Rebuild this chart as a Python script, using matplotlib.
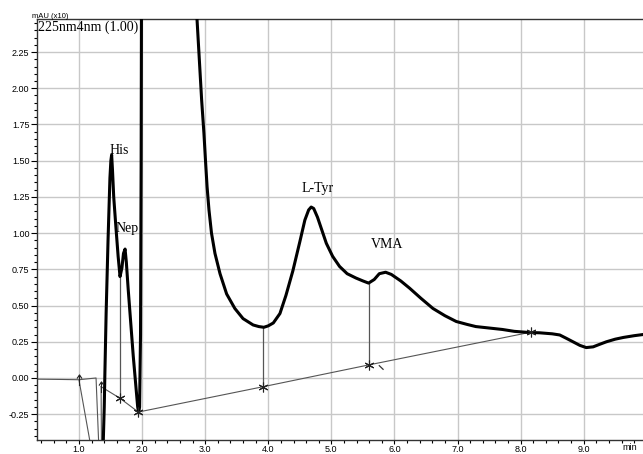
import matplotlib
matplotlib.use("Agg")
import matplotlib.pyplot as plt
from matplotlib.path import Path
from matplotlib.ticker import MultipleLocator


# main chromatogram (thick trace), minutes / mAU(x10)
trace_t = [1.385, 1.40, 1.41, 1.43, 1.46, 1.49, 1.505, 1.517, 1.53, 1.55,
           1.58, 1.62, 1.65, 1.68, 1.705, 1.73, 1.75, 1.78, 1.82, 1.86,
           1.90, 1.93, 1.945, 1.96, 1.975, 1.985, 1.99, 2.0, 2.2, 2.5,
           2.7, 2.80, 2.87, 2.944, 2.98, 3.005, 3.03, 3.06, 3.10, 3.155,
           3.235, 3.34, 3.47, 3.60, 3.76, 3.85, 3.93, 4.00, 4.08, 4.185,
           4.28, 4.39, 4.50, 4.58, 4.64, 4.68, 4.72, 4.78, 4.85, 4.92,
           5.02, 5.13, 5.25, 5.39, 5.50, 5.59, 5.68, 5.76, 5.86, 5.95,
           6.10, 6.24, 6.42, 6.61, 6.80, 6.98, 7.15, 7.29, 7.50, 7.71,
           7.90, 8.14, 8.30, 8.50, 8.62, 8.72, 8.83, 8.94, 9.04, 9.15,
           9.25, 9.36, 9.50, 9.63, 9.80, 9.94]
trace_y = [-0.43, -0.20, 0.03, 0.45, 0.95, 1.38, 1.50, 1.54, 1.44, 1.25,
           1.07, 0.84, 0.70, 0.76, 0.86, 0.89, 0.80, 0.61, 0.38, 0.15,
           -0.05, -0.20, -0.24, -0.20, 0.30, 1.5, 2.6, 6.0, 12.0, 7.0,
           3.5, 2.80, 2.48, 1.917, 1.69, 1.50, 1.32, 1.16, 1.00, 0.86,
           0.72, 0.58, 0.48, 0.41, 0.366, 0.355, 0.35, 0.36, 0.38, 0.445,
           0.57, 0.74, 0.94, 1.09, 1.16, 1.18, 1.17, 1.11, 1.02, 0.93,
           0.84, 0.77, 0.72, 0.69, 0.67, 0.655, 0.68, 0.72, 0.73, 0.715,
           0.67, 0.62, 0.55, 0.48, 0.43, 0.39, 0.37, 0.355, 0.345, 0.335,
           0.322, 0.314, 0.312, 0.305, 0.297, 0.275, 0.25, 0.225, 0.21, 0.215,
           0.232, 0.25, 0.268, 0.28, 0.292, 0.30]

# thin early trace before the solvent front
pre_t = [0.334, 0.70, 1.0, 1.20, 1.27, 1.31]
pre_y = [-0.008, -0.010, -0.012, -0.003, 0.0, -0.43]

# integration baselines
base1_t = [1.35, 1.65, 1.94]
base1_y = [-0.06, -0.14, -0.235]
base2_t = [1.94, 3.92, 5.59, 8.17]
base2_y = [-0.235, -0.06, 0.09, 0.317]

# peak separation drop lines: time, bottom, top
drop_t = [1.65, 3.92, 5.59]
drop_lo = [-0.14, -0.06, 0.09]
drop_hi = [0.70, 0.35, 0.655]

# peak start markers
start_t = [1.0, 1.35]
start_y = [-0.015, -0.06]

peak_names = ["His", "Nep", "L-Tyr", "VMA"]
peak_label_t = [1.63, 1.76, 4.78, 5.89]
peak_label_y = [1.57, 1.03, 1.31, 0.92]

x_ticks = [1.0, 2.0, 3.0, 4.0, 5.0, 6.0, 7.0, 8.0, 9.0]
y_ticks = [-0.25, 0.00, 0.25, 0.50, 0.75, 1.00, 1.25, 1.50, 1.75, 2.00, 2.25]

# little up-arrow used for peak starts
arrow_mark = Path([(0, -1), (0, 1), (-0.45, 0.35), (0, 1), (0.45, 0.35)],
                  [Path.MOVETO, Path.LINETO, Path.MOVETO, Path.LINETO, Path.LINETO])

fig = plt.figure(figsize=(6.43, 4.54), dpi=100)
ax = fig.add_axes([37 / 643, 14 / 454, 606 / 643, 421 / 454])

ax.grid(True, color="#c8c8c8", linewidth=1.0, zorder=0)

ax.plot(pre_t, pre_y, color="#555555", linewidth=0.8, zorder=2)
ax.plot([1.0, 1.17], [-0.015, -0.43], color="#555555", linewidth=0.8, zorder=2)
ax.plot([1.35, 1.355], [-0.06, -0.43], color="#555555", linewidth=0.8, zorder=2)

ax.plot(base1_t, base1_y, color="#555555", linewidth=0.8, zorder=2)
ax.plot(base2_t, base2_y, color="#555555", linewidth=0.8, zorder=2)
ax.vlines(drop_t, drop_lo, drop_hi, color="#555555", linewidth=0.9, zorder=2)
ax.plot([5.76, 5.82], [0.085, 0.06], color="#333333", linewidth=0.9, zorder=2)

ax.plot(trace_t, trace_y, color="black", linewidth=2.2, zorder=3,
        solid_joinstyle="round")

ax.plot(base1_t[1:] + base2_t[1:], base1_y[1:] + base2_y[1:], linestyle="none",
        marker=(6, 2, 0), markersize=7, color="#222222", markeredgewidth=0.8,
        zorder=4)
ax.plot(start_t, start_y, linestyle="none", marker=arrow_mark,
        markersize=8, color="#222222", markerfacecolor="none",
        markeredgewidth=0.8, zorder=4)

for name, t, y in zip(peak_names, peak_label_t, peak_label_y):
    ax.text(t, y, name, fontsize=10, family="Liberation Serif",
            ha="center", va="center", zorder=5)

ax.text(0.002, 0.997, "225nm4nm (1.00)", transform=ax.transAxes,
        fontsize=10, family="Liberation Serif", ha="left", va="top")
fig.text(32 / 643, 1 - 16 / 454, "mAU (x10)", fontsize=5.5,
         family="Liberation Sans", ha="left", va="center")
fig.text(630 / 643, 1 - 448 / 454, "min", fontsize=6.5,
         family="Liberation Sans", ha="center", va="center")

ax.set_xlim(0.334, 9.94)
ax.set_ylim(-0.428, 2.478)
ax.set_xticks(x_ticks)
ax.set_xticklabels([f"{v:.1f}" for v in x_ticks])
ax.set_yticks(y_ticks)
ax.set_yticklabels([f"{v:.2f}" for v in y_ticks])
ax.xaxis.set_minor_locator(MultipleLocator(0.2))
ax.yaxis.set_minor_locator(MultipleLocator(0.05))

ax.tick_params(axis="y", which="major", length=4, width=0.8, pad=1.5,
               labelsize=6.5, direction="out")
ax.tick_params(axis="x", which="major", length=3, width=0.8, pad=0.5,
               labelsize=6.5, direction="out")
ax.tick_params(axis="both", which="minor", length=2.5, width=0.8,
               direction="out")
for lab in ax.get_xticklabels() + ax.get_yticklabels():
    lab.set_family("Liberation Sans")

for side in ["left", "bottom", "top"]:
    ax.spines[side].set_color("#333333")
    ax.spines[side].set_linewidth(1.0)
ax.spines["right"].set_visible(False)

fig.savefig("out.png", dpi=100)
